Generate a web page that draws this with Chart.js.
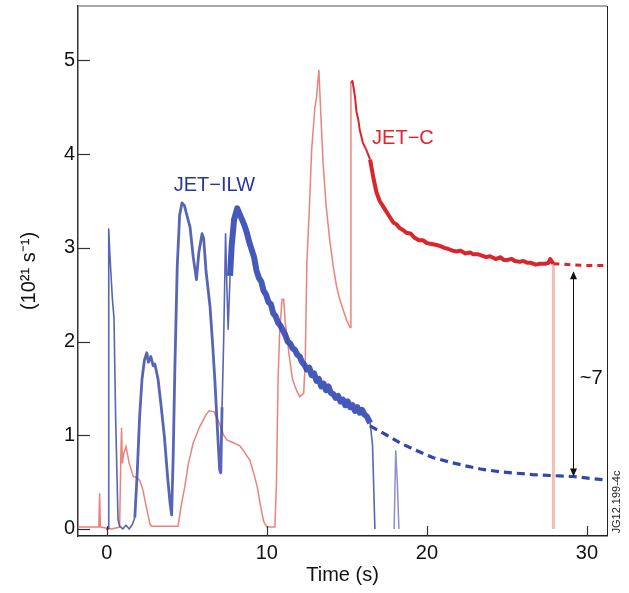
<!DOCTYPE html>
<html>
<head>
<meta charset="utf-8">
<script src="https://cdn.jsdelivr.net/npm/chart.js@4.4.1/dist/chart.umd.min.js"></script>
<style>
  html, body { margin: 0; padding: 0; background: #fff; }
</style>
</head>
<body>
<canvas id="canva" width="629" height="593"></canvas>
<script>
// JET-ILW (medido)
const ilwTime = [-0.05, 0.08, 0.12, 0.2, 0.35, 0.45, 0.55, 0.7, 0.8, 1.0, 1.2, 1.4, 1.6, 1.75, 1.9, 2.05, 2.2, 2.35, 2.5, 2.6, 2.75, 2.9, 3.0, 3.2, 3.4, 3.6, 3.8, 3.95, 4.05, 4.15, 4.25, 4.4, 4.55, 4.7, 4.85, 5.0, 5.2, 5.4, 5.6, 5.75, 5.95, 6.05, 6.2, 6.45, 6.6, 6.75, 6.9, 7.05, 7.12, 7.2, 7.3, 7.42, 7.5, 7.58, 7.7, 7.8, 7.95, 8.15, 8.3, 8.45, 8.6, 8.75, 8.9, 9.05, 9.2, 9.35, 9.5, 9.65, 9.8, 9.95, 10.1, 10.25, 10.4, 10.55, 10.7, 10.85, 11.0, 11.15, 11.3, 11.45, 11.6, 11.75, 11.9, 12.05, 12.2, 12.35, 12.5, 12.65, 12.8, 12.95, 13.1, 13.25, 13.4, 13.55, 13.7, 13.85, 14.0, 14.15, 14.3, 14.45, 14.6, 14.75, 14.9, 15.05, 15.2, 15.35, 15.5, 15.65, 15.8, 15.95, 16.1, 16.25, 16.45, 16.6, 16.75];
const ilwRate = [0.0, 0.0, 3.2, 2.9, 2.45, 2.25, 1.2, 0.1, 0.03, 0.0, 0.04, 0.0, 0.05, 0.12, 0.6, 1.2, 1.6, 1.8, 1.88, 1.78, 1.84, 1.74, 1.76, 1.6, 1.3, 0.98, 0.55, 0.28, 0.15, 0.8, 1.7, 2.8, 3.35, 3.48, 3.45, 3.35, 3.22, 2.9, 2.66, 2.95, 3.15, 3.1, 2.75, 2.37, 2.0, 1.59, 1.1, 0.63, 0.6, 1.3, 2.0, 3.15, 2.6, 2.13, 2.7, 3.02, 3.3, 3.42, 3.36, 3.3, 3.24, 3.16, 3.06, 2.98, 2.9, 2.76, 2.68, 2.64, 2.54, 2.5, 2.42, 2.4, 2.3, 2.27, 2.2, 2.17, 2.12, 2.07, 2.0, 1.98, 1.93, 1.91, 1.86, 1.84, 1.78, 1.75, 1.7, 1.72, 1.64, 1.66, 1.58, 1.6, 1.52, 1.55, 1.48, 1.52, 1.45, 1.44, 1.4, 1.42, 1.36, 1.38, 1.32, 1.36, 1.3, 1.32, 1.26, 1.3, 1.24, 1.27, 1.22, 1.2, 1.13, 0.9, 0.0];
// JET-ILW (extrapolado)
const ilwExtTime = [16.45, 17.5, 18.3, 19.3, 20.4, 21.5, 22.5, 23.5, 24.6, 25.6, 26.6, 27.8, 29.1, 30.2, 31.3];
const ilwExtRate = [1.1, 1.0, 0.92, 0.84, 0.76, 0.71, 0.67, 0.635, 0.61, 0.595, 0.58, 0.57, 0.56, 0.54, 0.52];
// pico tardío
const ilwSpikeTime = [17.95, 18.05, 18.15, 18.25];
const ilwSpikeRate = [0.0, 0.84, 0.5, 0.0];

// JET-C (fase inicial, trazo fino)
const cTime = [-1.8, -0.5, -0.45, -0.4, 0.3, 0.8, 0.88, 0.92, 0.97, 1.05, 1.2, 1.4, 1.65, 1.85, 2.05, 2.25, 2.45, 2.7, 2.8, 4.45, 4.65, 4.87, 5.1, 5.4, 5.8, 6.2, 6.4, 6.7, 7.0, 7.3, 7.5, 7.9, 8.3, 8.6, 8.95, 9.2, 9.4, 9.6, 9.8, 10.0, 10.5, 10.6, 10.7, 10.8, 10.95, 11.05, 11.15, 11.4, 11.6, 11.8, 12.05, 12.3, 12.4, 12.5, 12.65, 12.8, 13.0, 13.1, 13.25, 13.35, 13.5, 13.7, 13.95, 14.15, 14.35, 14.55, 14.8, 15.0, 15.2, 15.25];
const cRate = [0.02, 0.02, 0.38, 0.02, 0.0, 0.02, 0.8, 1.08, 0.7, 0.8, 0.88, 0.7, 0.56, 0.55, 0.52, 0.42, 0.25, 0.05, 0.03, 0.03, 0.25, 0.45, 0.7, 0.92, 1.09, 1.22, 1.26, 1.25, 1.14, 1.0, 0.95, 0.92, 0.89, 0.82, 0.73, 0.58, 0.45, 0.25, 0.08, 0.02, 0.02, 0.5, 1.6, 2.1, 2.45, 2.45, 2.2, 1.84, 1.6, 1.5, 1.41, 1.45, 1.8, 2.85, 3.4, 4.05, 4.5, 4.6, 4.9, 4.5, 3.94, 3.45, 3.05, 2.8, 2.59, 2.45, 2.32, 2.22, 2.15, 4.76];
// JET-C (fase final, trazo grueso)
const cLateTime = [15.25, 15.35, 15.5, 15.6, 15.7, 15.8, 16.0, 16.2, 16.45, 16.65, 16.85, 17.05, 17.27, 17.6, 17.9, 18.1, 18.3, 18.5, 18.73, 19.0, 19.2, 19.5, 19.77, 20.0, 20.3, 20.6, 20.8, 21.1, 21.3, 21.6, 21.85, 22.1, 22.4, 22.7, 22.9, 23.2, 23.4, 23.7, 23.94, 24.3, 24.6, 24.8, 25.0, 25.3, 25.5, 25.8, 26.0, 26.3, 26.5, 26.8, 27.06, 27.4, 27.6, 27.7, 27.9];
const cLateRate = [4.76, 4.78, 4.62, 4.45, 4.38, 4.26, 4.12, 4.05, 3.94, 3.75, 3.59, 3.5, 3.44, 3.35, 3.27, 3.25, 3.21, 3.19, 3.16, 3.15, 3.11, 3.08, 3.08, 3.05, 3.04, 3.03, 3.02, 3.0, 2.99, 2.97, 2.96, 2.97, 2.94, 2.95, 2.93, 2.93, 2.92, 2.9, 2.91, 2.88, 2.9, 2.87, 2.87, 2.88, 2.86, 2.85, 2.86, 2.84, 2.84, 2.82, 2.83, 2.83, 2.84, 2.88, 2.83];
// JET-C (extrapolado)
const cExtTime = [27.9, 29.0, 30.2, 31.3];
const cExtRate = [2.83, 2.82, 2.81, 2.81];
// caída al final del pulso
const cDropTime = [27.9, 27.9];
const cDropRate = [2.83, 0.0];

const xTicks = [0, 10, 20, 30];
const yTicks = [0, 1, 2, 3, 4, 5];

const fuente = "'Liberation Sans', Arial, Helvetica, sans-serif";
const puntos = (xs, ys) => xs.map((x, i) => ({ x: x, y: ys[i] }));

// grosor del trazo azul según el tramo
function grosorAzul(c) {
  const t0 = c.p0.parsed.x;
  const t1 = c.p1.parsed.x;
  if (t0 >= 7.6 && t1 <= 16.5) return 6;
  if (t0 >= 1.75 && t1 <= 7.2) return 2.8;
  return 1.6;
}

// Ticks interiores, marco superior/derecho, flecha y rótulos
const extras = {
  id: "extras",
  afterDraw(chart) {
    const { ctx, chartArea: a, scales: { x, y } } = chart;
    ctx.save();

    ctx.strokeStyle = "#8c8c8c";
    ctx.lineWidth = 1.5;
    ctx.beginPath(); ctx.moveTo(a.left, a.top); ctx.lineTo(a.right, a.top); ctx.stroke();
    ctx.strokeStyle = "#222";
    ctx.lineWidth = 1;
    ctx.beginPath(); ctx.moveTo(a.right + 0.5, a.top); ctx.lineTo(a.right + 0.5, a.bottom); ctx.stroke();

    ctx.strokeStyle = "#333";
    ctx.lineWidth = 1.2;
    yTicks.forEach((v) => {
      const py = Math.round(y.getPixelForValue(v)) + 0.5;
      ctx.beginPath(); ctx.moveTo(a.left, py); ctx.lineTo(a.left + 12, py); ctx.stroke();
    });
    xTicks.forEach((v) => {
      const px = Math.round(x.getPixelForValue(v)) + 0.5;
      ctx.beginPath(); ctx.moveTo(px, a.bottom); ctx.lineTo(px, a.bottom - 10); ctx.stroke();
    });

    // flecha doble ~7
    const ax = Math.round(x.getPixelForValue(29.1)) + 0.5;
    const ay1 = y.getPixelForValue(2.75);
    const ay2 = y.getPixelForValue(0.56);
    ctx.strokeStyle = "#111";
    ctx.fillStyle = "#111";
    ctx.lineWidth = 1;
    ctx.beginPath(); ctx.moveTo(ax, ay1 + 4); ctx.lineTo(ax, ay2 - 4); ctx.stroke();
    ctx.beginPath(); ctx.moveTo(ax, ay1); ctx.lineTo(ax - 3.5, ay1 + 8); ctx.lineTo(ax + 3.5, ay1 + 8); ctx.closePath(); ctx.fill();
    ctx.beginPath(); ctx.moveTo(ax, ay2); ctx.lineTo(ax - 3.5, ay2 - 8); ctx.lineTo(ax + 3.5, ay2 - 8); ctx.closePath(); ctx.fill();

    ctx.textBaseline = "middle";
    ctx.font = "20px " + fuente;
    ctx.textAlign = "left";
    ctx.fillText("~7", x.getPixelForValue(29.55), y.getPixelForValue(1.61));

    ctx.textAlign = "center";
    ctx.fillStyle = "#28389a";
    ctx.fillText("JET\u2212ILW", x.getPixelForValue(6.72), y.getPixelForValue(3.66));
    ctx.fillStyle = "#e8202a";
    ctx.fillText("JET\u2212C", x.getPixelForValue(18.5), y.getPixelForValue(4.17));

    ctx.fillStyle = "#222";
    ctx.font = "11px " + fuente;
    ctx.translate(a.right + 10, a.bottom - 34);
    ctx.rotate(-Math.PI / 2);
    ctx.fillText("JG12.199-4c", 0, 0);
    ctx.restore();
  }
};

new Chart(document.getElementById("canva").getContext("2d"), {
  type: "line",
  data: {
    datasets: [
      {
        label: "JET-ILW",
        data: puntos(ilwTime, ilwRate),
        borderColor: "rgba(38, 58, 168, 0.92)",
        borderWidth: 2,
        borderJoinStyle: "round",
        segment: {
          borderWidth: grosorAzul,
          borderColor: (c) => (grosorAzul(c) > 5 ? "rgba(42, 66, 176, 0.88)" : "rgba(58, 74, 170, 0.85)")
        }
      },
      {
        label: "JET-ILW extrapolado",
        data: puntos(ilwExtTime, ilwExtRate),
        borderColor: "#3148a8",
        borderWidth: 3.2,
        borderDash: [8, 5]
      },
      {
        label: "JET-ILW pico",
        data: puntos(ilwSpikeTime, ilwSpikeRate),
        borderColor: "rgba(110, 115, 195, 0.8)",
        borderWidth: 1.5
      },
      {
        label: "JET-C final",
        data: puntos(cLateTime, cLateRate),
        borderColor: "#d9252b",
        borderWidth: 3,
        borderJoinStyle: "round",
        segment: {
          borderWidth: (c) => (c.p0.parsed.x < 16.3 ? 2 : 4)
        }
      },
      {
        label: "JET-C extrapolado",
        data: puntos(cExtTime, cExtRate),
        borderColor: "#d9252b",
        borderWidth: 3,
        borderDash: [6, 5]
      },
      {
        label: "JET-C",
        data: puntos(cTime, cRate),
        borderColor: "rgba(228, 100, 90, 0.8)",
        borderWidth: 1.5
      },
      {
        label: "JET-C caída",
        data: puntos(cDropTime, cDropRate),
        borderColor: "rgba(236, 170, 150, 0.75)",
        borderWidth: 3
      }
    ]
  },
  options: {
    responsive: false,
    animation: false,
    layout: { padding: { top: 6, right: 22, left: 0, bottom: 0 } },
    elements: { point: { radius: 0 }, line: { tension: 0 } },
    plugins: { legend: { display: false }, tooltip: { enabled: false } },
    scales: {
      x: {
        type: "linear",
        min: -1.8,
        max: 31.25,
        afterBuildTicks: (s) => { s.ticks = xTicks.map((v) => ({ value: v })); },
        afterFit: (s) => { s.height = 57; s.paddingLeft = 0; s.paddingRight = 0; },
        grid: { display: false, drawTicks: false },
        border: { display: true, color: "#222", width: 1.5 },
        ticks: { color: "#111", padding: 5, font: { family: fuente, size: 20 } },
        title: { display: true, text: "Time (s)", color: "#111", padding: { bottom: 6 }, font: { family: fuente, size: 20 } }
      },
      y: {
        type: "linear",
        min: -0.075,
        max: 5.58,
        afterBuildTicks: (s) => { s.ticks = yTicks.map((v) => ({ value: v })); },
        afterFit: (s) => { s.width = 78; s.paddingTop = 0; s.paddingBottom = 0; },
        grid: { display: false, drawTicks: false },
        border: { display: true, color: "#333", width: 1.5 },
        ticks: { color: "#111", padding: 3, font: { family: fuente, size: 20 } },
        title: { display: true, text: "(10\u00b2\u00b9 s\u207b\u00b9)", color: "#111", padding: { top: 17 }, font: { family: fuente, size: 20 } }
      }
    }
  },
  plugins: [extras]
});
</script>
</body>
</html>
